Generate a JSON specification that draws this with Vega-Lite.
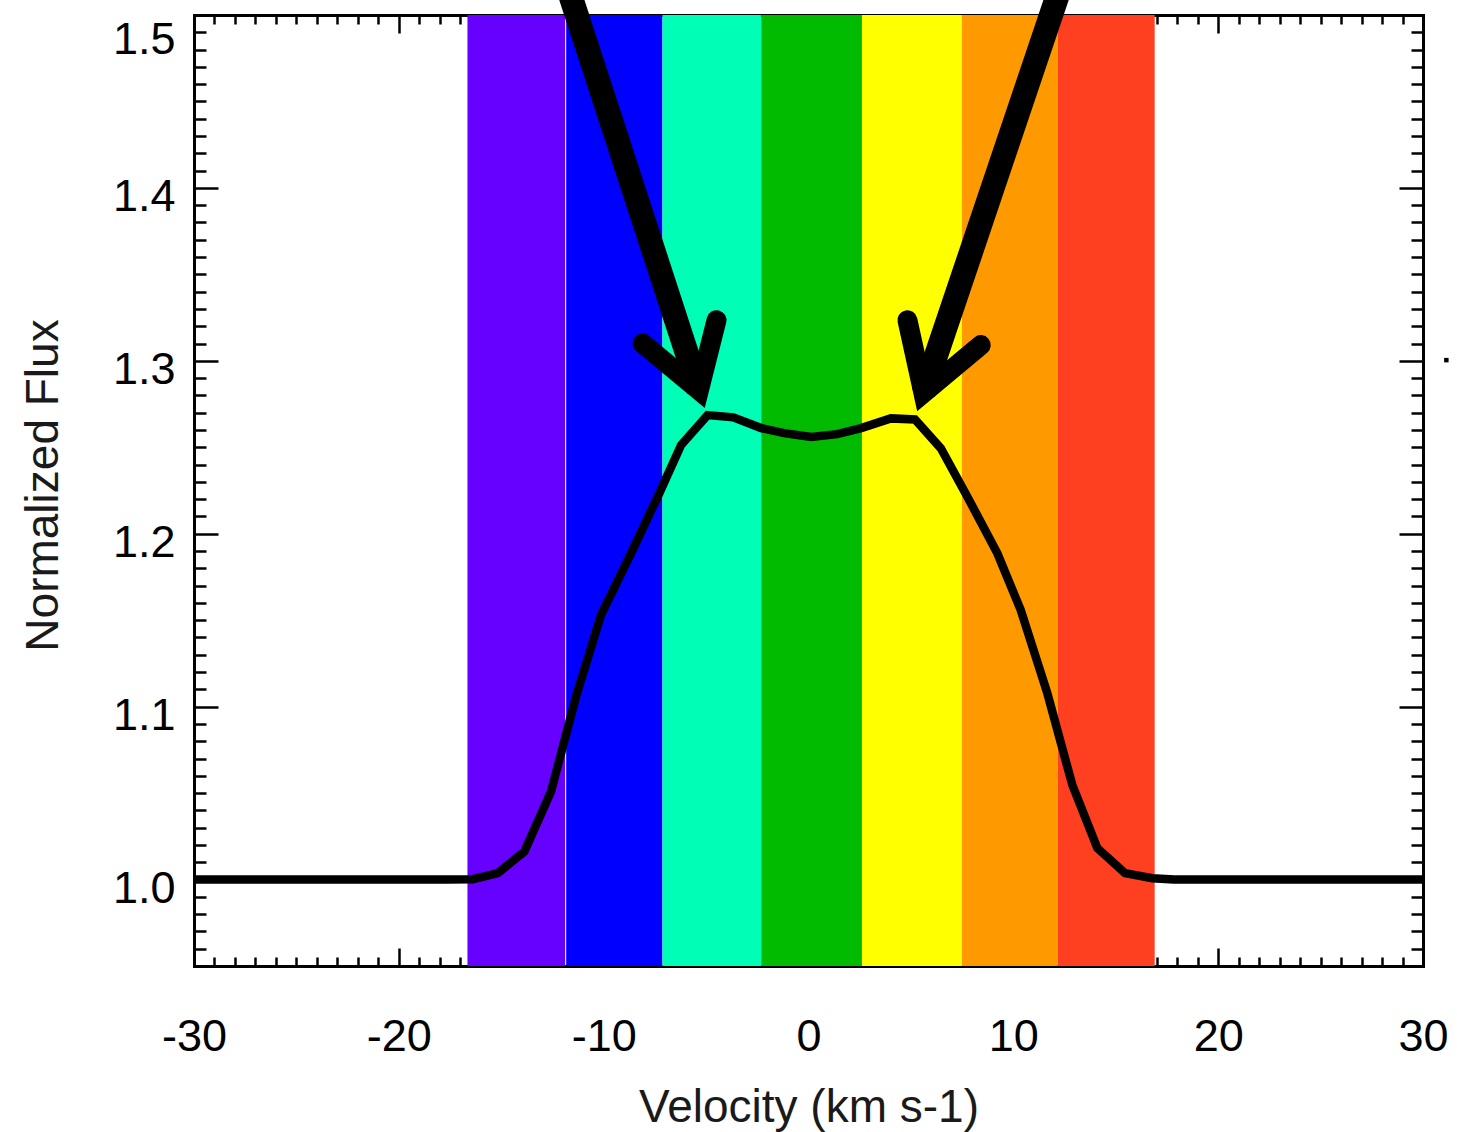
{
  "$schema": "https://vega.github.io/schema/vega-lite/v6.json",
  "width": 1229,
  "height": 951,
  "autosize": {"type": "none"},
  "padding": {"left": 194, "top": 15, "right": 34, "bottom": 166},
  "background": "white",
  "config": {
    "view": {"stroke": null},
    "font": "Liberation Sans",
    "axis": {
      "grid": false,
      "domainColor": "black",
      "domainWidth": 3,
      "domainCap": "square",
      "tickColor": "black",
      "tickWidth": 2.5,
      "labelFont": "Liberation Sans",
      "labelFontSize": 45,
      "labelColor": "black",
      "labelOverlap": false,
      "labelBound": false,
      "labelFlush": false,
      "titleFont": "Liberation Sans",
      "titleFontSize": 46,
      "titleFontWeight": "normal",
      "titleColor": "#1a1a1a"
    }
  },
  "datasets": {
    "bands": [
      {"band": "violet", "v0": -16.65, "v1": -11.88},
      {"band": "blue", "v0": -11.83, "v1": -7.13},
      {"band": "cyan", "v0": -7.13, "v1": -2.31},
      {"band": "green", "v0": -2.31, "v1": 2.61},
      {"band": "yellow", "v0": 2.61, "v1": 7.49},
      {"band": "orange", "v0": 7.49, "v1": 12.17},
      {"band": "red", "v0": 12.17, "v1": 16.9}
    ],
    "profile": [
      {"v": -30, "f": 1.0},
      {"v": -17.7, "f": 1.0},
      {"v": -16.39, "f": 1.0002},
      {"v": -15.17, "f": 1.0037},
      {"v": -13.87, "f": 1.0162},
      {"v": -12.57, "f": 1.0509},
      {"v": -11.35, "f": 1.1058},
      {"v": -10.13, "f": 1.153},
      {"v": -8.66, "f": 1.1888},
      {"v": -7.28, "f": 1.2235},
      {"v": -6.22, "f": 1.2513},
      {"v": -4.93, "f": 1.2686},
      {"v": -3.67, "f": 1.2673},
      {"v": -2.31, "f": 1.2611},
      {"v": -1.19, "f": 1.2582},
      {"v": 0.13, "f": 1.2559},
      {"v": 1.4, "f": 1.2576},
      {"v": 2.57, "f": 1.2611},
      {"v": 4.02, "f": 1.2667},
      {"v": 5.2, "f": 1.2661},
      {"v": 6.46, "f": 1.2494},
      {"v": 7.84, "f": 1.2195},
      {"v": 9.22, "f": 1.1887},
      {"v": 10.36, "f": 1.1559},
      {"v": 11.66, "f": 1.1077},
      {"v": 12.88, "f": 1.0547},
      {"v": 14.1, "f": 1.0182},
      {"v": 15.45, "f": 1.0037},
      {"v": 16.78, "f": 1.0008},
      {"v": 17.84, "f": 1.0},
      {"v": 30, "f": 1.0}
    ],
    "shafts": [
      {"arrow": "left", "v": -12.03, "f": 1.526, "v2": -5.35, "f2": 1.283},
      {"arrow": "right", "v": 12.58, "f": 1.526, "v2": 5.61, "f2": 1.2814}
    ],
    "barbs": [
      {"arrow": "left", "seq": 1, "v": -8.1, "f": 1.3101},
      {"arrow": "left", "seq": 2, "v": -5.35, "f": 1.283},
      {"arrow": "left", "seq": 3, "v": -4.49, "f": 1.3235},
      {"arrow": "right", "seq": 1, "v": 4.83, "f": 1.3235},
      {"arrow": "right", "seq": 2, "v": 5.61, "f": 1.2814},
      {"arrow": "right", "seq": 3, "v": 8.41, "f": 1.3091}
    ],
    "dot": [
      {"v": 31.14, "f": 1.3004}
    ]
  },
  "layer": [
    {
      "data": {"name": "bands"},
      "mark": {"type": "rect"},
      "encoding": {
        "x": {
          "field": "v0", "type": "quantitative",
          "scale": {"domain": [-30, 30], "nice": false, "zero": false},
          "axis": {
            "orient": "bottom",
            "title": "Velocity (km s-1)",
            "values": [-30,-29,-28,-27,-26,-25,-24,-23,-22,-21,-20,-19,-18,-17,-16,-15,-14,-13,-12,-11,-10,-9,-8,-7,-6,-5,-4,-3,-2,-1,0,1,2,3,4,5,6,7,8,9,10,11,12,13,14,15,16,17,18,19,20,21,22,23,24,25,26,27,28,29,30],
            "tickSize": {"condition": {"test": "datum.value % 10 === 0", "value": -18}, "value": -9},
            "labelExpr": "datum.value % 10 === 0 ? replace(datum.label, '\u2212', '-') : ''",
            "labelPadding": 66,
            "labelBaseline": "top",
            "titleBaseline": "alphabetic",
            "titleY": 155
          }
        },
        "x2": {"field": "v1"},
        "color": {
          "field": "band", "type": "nominal", "legend": null,
          "scale": {
            "domain": ["violet", "blue", "cyan", "green", "yellow", "orange", "red"],
            "range": ["#6600FF", "#0000FF", "#00FFB6", "#00BB00", "#FFFF00", "#FF9900", "#FF4020"]
          }
        }
      }
    },
    {
      "data": {"name": "profile"},
      "mark": {"type": "line", "color": "black", "strokeWidth": 8.5, "strokeJoin": "miter"},
      "encoding": {
        "x": {
          "field": "v", "type": "quantitative",
          "scale": {"domain": [-30, 30], "nice": false, "zero": false},
          "axis": {
            "orient": "top",
            "title": null,
            "labels": false,
            "values": [-30,-29,-28,-27,-26,-25,-24,-23,-22,-21,-20,-19,-18,-17,-16,-15,-14,-13,-12,-11,-10,-9,-8,-7,-6,-5,-4,-3,-2,-1,0,1,2,3,4,5,6,7,8,9,10,11,12,13,14,15,16,17,18,19,20,21,22,23,24,25,26,27,28,29,30],
            "tickSize": {"condition": {"test": "datum.value % 10 === 0", "value": -18}, "value": -9}
          }
        },
        "y": {
          "field": "f", "type": "quantitative",
          "scale": {"domain": [0.95, 1.5], "nice": false, "zero": false},
          "axis": {
            "orient": "left",
            "title": "Normalized Flux",
            "values": [0.95,0.96,0.97,0.98,0.99,1.0,1.01,1.02,1.03,1.04,1.05,1.06,1.07,1.08,1.09,1.1,1.11,1.12,1.13,1.14,1.15,1.16,1.17,1.18,1.19,1.2,1.21,1.22,1.23,1.24,1.25,1.26,1.27,1.28,1.29,1.3,1.31,1.32,1.33,1.34,1.35,1.36,1.37,1.38,1.39,1.4,1.41,1.42,1.43,1.44,1.45,1.46,1.47,1.48,1.49,1.5],
            "tickSize": {"condition": {"test": "abs(datum.value*10 - round(datum.value*10)) < 0.001", "value": -24}, "value": -12},
            "labelExpr": "abs(datum.value*10 - round(datum.value*10)) < 0.001 ? format(datum.value, '.1f') : ''",
            "labelPadding": 43,
            "labelBaseline": "middle",
            "labelOffset": {"condition": {"test": "datum.value > 1.495", "value": 24}, "value": 9},
            "titleBaseline": "alphabetic",
            "titleAngle": -90,
            "titleX": -137,
            "titleY": 470
          }
        }
      }
    },
    {
      "data": {"name": "shafts"},
      "mark": {"type": "rule", "color": "black", "strokeWidth": 24, "strokeCap": "butt"},
      "encoding": {
        "x": {"field": "v", "type": "quantitative", "axis": null},
        "y": {"field": "f", "type": "quantitative", "axis": null},
        "x2": {"field": "v2"},
        "y2": {"field": "f2"}
      }
    },
    {
      "data": {"name": "barbs"},
      "mark": {"type": "line", "color": "black", "strokeWidth": 20, "strokeCap": "round", "strokeJoin": "miter", "strokeMiterLimit": 10},
      "encoding": {
        "x": {"field": "v", "type": "quantitative", "axis": null},
        "y": {
          "field": "f", "type": "quantitative",
          "axis": {
            "orient": "right",
            "title": null,
            "labels": false,
            "values": [0.95,0.96,0.97,0.98,0.99,1.0,1.01,1.02,1.03,1.04,1.05,1.06,1.07,1.08,1.09,1.1,1.11,1.12,1.13,1.14,1.15,1.16,1.17,1.18,1.19,1.2,1.21,1.22,1.23,1.24,1.25,1.26,1.27,1.28,1.29,1.3,1.31,1.32,1.33,1.34,1.35,1.36,1.37,1.38,1.39,1.4,1.41,1.42,1.43,1.44,1.45,1.46,1.47,1.48,1.49,1.5],
            "tickSize": {"condition": {"test": "abs(datum.value*10 - round(datum.value*10)) < 0.001", "value": -24}, "value": -12}
          }
        },
        "detail": {"field": "arrow", "type": "nominal"},
        "order": {"field": "seq", "type": "quantitative"}
      }
    },
    {
      "data": {"name": "dot"},
      "mark": {"type": "point", "shape": "square", "filled": true, "color": "black", "size": 20, "opacity": 1},
      "encoding": {
        "x": {"field": "v", "type": "quantitative", "axis": null},
        "y": {"field": "f", "type": "quantitative", "axis": null}
      }
    }
  ],
  "resolve": {"axis": {"x": "independent", "y": "independent"}}
}
